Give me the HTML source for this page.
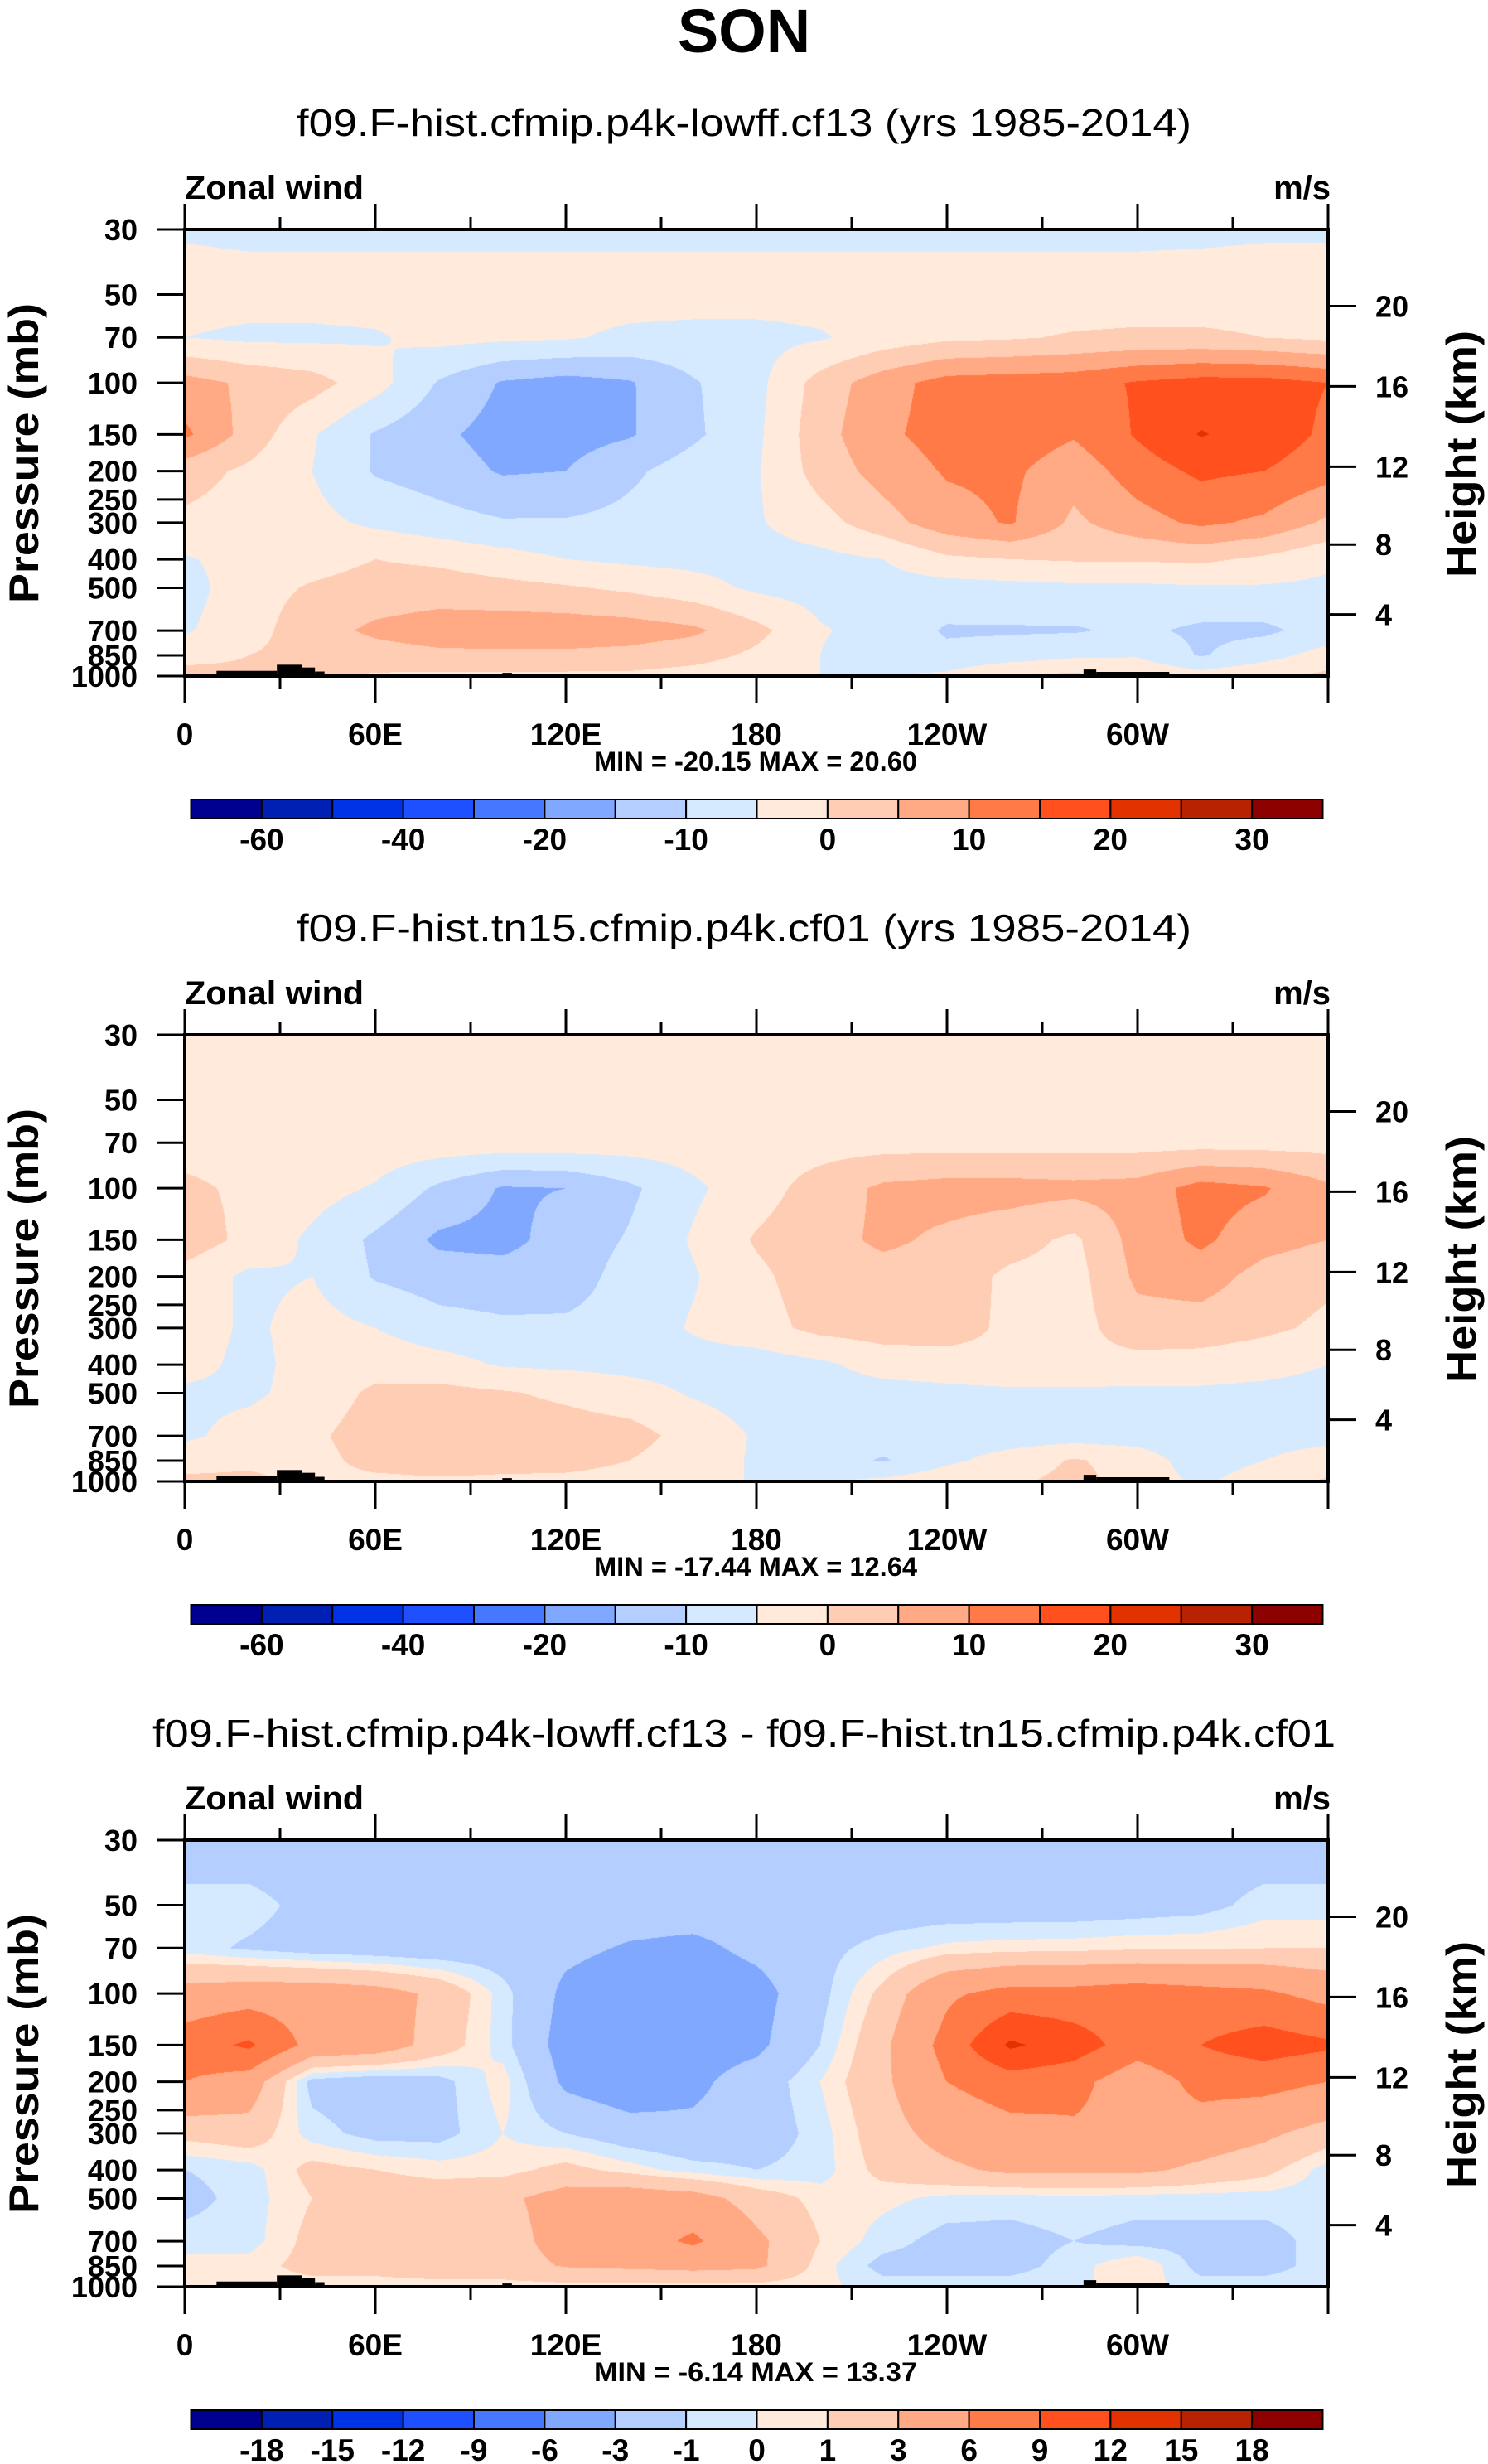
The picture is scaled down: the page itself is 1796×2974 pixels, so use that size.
<!DOCTYPE html>
<html><head><meta charset="utf-8">
<style>
html,body{margin:0;padding:0;background:#fff;}
#wrap{position:relative;width:1796px;height:2974px;overflow:hidden;}
canvas{position:absolute;}
svg{position:absolute;left:0;top:0;}
text{font-family:"Liberation Sans",Arial,sans-serif;fill:#000;}
</style></head>
<body>
<div id="wrap">
<canvas id="c0" width="1380" height="539" style="left:223px;top:277px"></canvas>
<canvas id="c1" width="1380" height="539" style="left:223px;top:1249px"></canvas>
<canvas id="c2" width="1380" height="539" style="left:223px;top:2221px"></canvas>
<svg id="svg" width="1796" height="2974" xmlns="http://www.w3.org/2000/svg">
<text x="898" y="63" text-anchor="middle" font-size="74" font-weight="bold">SON</text>
</svg>
</div>
<script>
const lons=[0,20,40,60,80,100,120,140,160,180,200,220,240,260,280,300,320,340,360];
const levels=[30,50,70,100,150,200,300,400,500,700,850,1000];
const u1=[
[-5.5,-6,-6,-6,-6,-6,-6,-6,-6,-6,-6,-6,-6,-6,-6,-6,-5.8,-5.5,-5.5],
[-3,-3,-3,-3,-3,-3,-3,-3,-3,-3,-3,-3,-3,-3,-3,-3,-3,-3,-3],
[-5,-6,-6,-5.5,-3.5,-4,-4.5,-6,-6.5,-6.5,-5.5,-3,-1,-0.5,0.5,1,1,0,-1],
[7,4,2,-3,-10.5,-15.5,-17,-15.5,-10.5,-6.5,2,8,12,12.5,13,15.5,17,17,15],
[11,3,-4.5,-10.5,-14,-17,-17,-15.5,-11,-6,3,9,12,13,10.5,15.5,20.3,18,14],
[2,-1,-5,-10.5,-12.5,-15.5,-15,-11,-7.5,-5.5,2,7,10.5,11,7,12.5,16,15,12],
[-1,-2,-3.5,-6,-8,-9.5,-9.5,-8.5,-7,-5.5,-2,3,8,10.5,4,8,11,9,4],
[-5.5,-3,-2,0,-1,-3,-5,-6,-6.5,-7,-6.5,-5,-1,0,0.5,0.5,1,-1,-4],
[-7,-2,0.5,2,2.5,1.5,0.5,-1,-3,-6,-7,-7,-7,-6.5,-6,-6,-5.5,-5.5,-6],
[-5.5,-2,3,6,7.5,8,8,7.5,6,1.5,-4.5,-7,-10.5,-10.5,-10.5,-9,-11,-11,-8],
[-2,0,1.5,3,4,4,4,3.5,2,-1,-5,-9,-9,-8,-6,-5.5,-10.5,-7,-3],
[2,1,0.5,-0.5,-1,-1,-1,-1,-2,-3,-5,-5,-4,0.5,1,-1,-3,-1,1]];
const u2=[
[-2,-2,-2,-2,-2,-2,-2,-2,-2,-2,-2,-2,-2,-2,-2,-2,-2,-2,-2],
[-2,-2,-2,-2,-2,-2,-2,-2,-2,-2,-2,-2,-2,-2,-2,-2,-2,-2,-2],
[-2,-2,-2,-2,-2,-2,-2,-2.5,-2.5,-2,-2,-2,-2,-2,-2,-2,-2,-2,-2],
[1,-1,-3,-5.5,-11,-15.5,-15,-11,-6,-2,2,6,7,7,6.5,7,12,10.5,6],
[3,-1.5,-6,-11,-16,-16.5,-13,-9.5,-4.5,0.5,3,6,4,2,-1,7,11,7,5],
[-2,-6,-5,-10.5,-12.5,-13,-12.5,-8,-5.5,-1,2.5,3,2.5,-1,-2,6,7.5,3,1],
[-2,-6,-3,-5,-8,-9,-9,-8,-4.5,-2,1.5,2.5,2,-1,-2,3,2.5,1,-1],
[-3,-6.5,-3,-2,-3,-5.5,-6,-6.5,-7,-7.5,-6,-3,-2,-1,-1,-2,-2,-3,-5],
[-6,-6,-3,1,1.5,0.5,-1,-3,-5.5,-7,-7,-7,-6.5,-6,-6,-6,-6,-6.5,-7],
[-6,-3,-1,2.5,3,3,2.5,2,-2,-5.5,-7,-7.5,-7.5,-7.5,-7.5,-7.5,-9,-7.5,-7],
[-2,-1,-1.5,1.5,2,2,1.5,0,-3,-5.5,-7.5,-10.5,-6,-3,0.5,-2,-8,-5,-2],
[1,1,-1,-1,-0.5,-1,-1,-1.5,-3,-5.5,-5.5,-4,-2,-1,1.5,-2,-6,-2,0.5]];
const u3=[
[-2,-2,-2,-2,-2,-2,-2,-2,-2,-2,-2,-2,-2,-2,-2,-2,-2,-2,-2],
[-0.5,-0.5,-1.5,-2,-2,-2,-2,-2,-2,-2,-2,-2,-2,-2,-2,-1.8,-1.5,-0.5,-0.5],
[-0.5,-1.2,-1.7,-2,-2.2,-2,-2.5,-3.2,-3.5,-2.5,-1.5,-0.5,0.3,0.5,0.6,0.8,0.8,1,1],
[4,4.5,4.5,4,2.5,-0.5,-3.5,-4.5,-4.5,-3.8,-1.5,1.5,5.5,7,7,7.5,7,6.5,5],
[7.5,9.5,5,4.5,2,-0.5,-4,-4,-4,-3.5,-1,2.5,7,12.5,10.5,7.5,9,10.5,9.5],
[6,4.5,-1.5,-2,-1.5,0.5,-3.5,-4.5,-3.5,-2,0,2.5,6,7.5,7,4,7,7,6],
[1.5,2,-0.5,-1.5,-1.5,0,-1,-2,-2.5,-2,-0.5,2,4,5,5.5,5,4.5,3.5,2],
[-1,-0.5,1.5,1,0.5,0.5,1.5,0.5,-0.5,-1,-0.5,1.5,2.5,3.5,3.5,3.5,2.5,1.5,-0.5],
[-1.5,-0.5,1,2,2,2.5,4,4.5,4,2,0.5,0.3,-0.3,-0.5,-0.3,-0.5,-0.5,-0.5,-0.5],
[-0.5,-0.5,1.5,2,2,2,4,4.5,6.5,3.5,1,-0.5,-1.5,-1.5,-1,-1.5,-1.5,-1.5,-0.5],
[0.5,0.5,1.5,1.5,2,2,3.2,3.5,3.8,3.5,0.5,-1.5,-1.5,-1.5,-0.5,1,-1.5,-1.5,-0.5],
[0.5,0.5,0.5,0.5,0.5,0.5,0.5,0.5,0.5,0.5,0.3,-0.5,-0.5,-0.5,-0.2,0.5,-0.5,-0.5,-0.5]];
const edgesAbs=[-60,-50,-40,-30,-20,-15,-10,-5,0,5,10,15,20,25,30];
const edgesDiff=[-18,-15,-12,-9,-6,-3,-1,0,1,3,6,9,12,15,18];
const colors=["#000090","#0020b4","#0032e6","#1e50ff","#4678ff","#80a8ff","#b4ceff","#d6eaff","#ffeadb","#ffcdb4","#ffaa84","#ff7a46","#ff501e","#e13200","#b92200","#8c0000"];
const cbLabelsAbs=["","-60","","-40","","-20","","-10","","0","","10","","20","","30",""];
const cbLabelsDiff=["","-18","-15","-12","-9","-6","-3","-1","0","1","3","6","9","12","15","18",""];
const presTicks=[30,50,70,100,150,200,250,300,400,500,700,850,1000];
const heightTicks=[4,8,12,16,20];
const lonTicks=[0,30,60,90,120,150,180,210,240,270,300,330,360];
const lonLabels={0:"0",60:"60E",120:"120E",180:"180",240:"120W",300:"60W"};
const topo=[[10,29,960],[29,37,915],[37,41,935],[41,44,965],[100,103,975],[283,287,950],[287,310,968]];
const titles=["f09.F-hist.cfmip.p4k-lowff.cf13 (yrs 1985-2014)","f09.F-hist.tn15.cfmip.p4k.cf01 (yrs 1985-2014)","f09.F-hist.cfmip.p4k-lowff.cf13 - f09.F-hist.tn15.cfmip.p4k.cf01"];
const minmax=["MIN = -20.15  MAX =  20.60","MIN = -17.44  MAX =  12.64","MIN =  -6.14  MAX = 13.37"];

const X0=223,W=1380,H=539,TOPS=[277,1249,2221];
const LN=Math.log(1000/30);
const NS="http://www.w3.org/2000/svg";
const svg=document.getElementById('svg');
function xOf(lon){return X0+lon/360*W;}
function yOf(p,top){return top+Math.log(p/30)/LN*H;}
function stdP(zkm){const z=zkm*1000;if(z<11000)return 1013.25*Math.pow(1-2.25577e-5*z,5.25588);return 226.32*Math.exp(-(z-11000)/6341.6);}
function hex(c){return [parseInt(c.substr(1,2),16),parseInt(c.substr(3,2),16),parseInt(c.substr(5,2),16)];}
const rgb=colors.map(hex);
function mk(tag,attrs,parent){const e=document.createElementNS(NS,tag);for(const k in attrs)e.setAttribute(k,attrs[k]);(parent||svg).appendChild(e);return e;}
function txt(x,y,s,size,bold,anchor,extra){const e=mk('text',Object.assign({x:x,y:y,'font-size':size,'font-weight':bold?'bold':'normal','text-anchor':anchor||'start'},extra||{}));e.textContent=s;return e;}

function drawField(id,data,edges){
  const cv=document.getElementById(id),ctx=cv.getContext('2d');
  const img=ctx.createImageData(W,H);
  const lnl=levels.map(p=>Math.log(p));
  for(let py=0;py<H;py++){
    const lp=Math.log(30)+py/(H-1)*LN;
    let j=0;while(j<levels.length-2&&lp>lnl[j+1])j++;
    const fy=Math.min(1,Math.max(0,(lp-lnl[j])/(lnl[j+1]-lnl[j])));
    for(let px=0;px<W;px++){
      const lon=px/(W-1)*360;
      let i=0;while(i<lons.length-2&&lon>lons[i+1])i++;
      const fx=(lon-lons[i])/(lons[i+1]-lons[i]);
      const v=(data[j][i]*(1-fx)+data[j][i+1]*fx)*(1-fy)+(data[j+1][i]*(1-fx)+data[j+1][i+1]*fx)*fy;
      let b=0;while(b<edges.length&&v>=edges[b])b++;
      const c=rgb[b],k=(py*W+px)*4;
      img.data[k]=c[0];img.data[k+1]=c[1];img.data[k+2]=c[2];img.data[k+3]=255;
    }
  }
  ctx.putImageData(img,0,0);
}
drawField('c0',u1,edgesAbs);
drawField('c1',u2,edgesAbs);
drawField('c2',u3,edgesDiff);

TOPS.forEach((top,pi)=>{
  const off=top-277;
  const g=mk('g',{});
  
  
  topo.forEach(t=>{
    const r=mk('rect',{x:xOf(t[0]),y:yOf(t[2],top),width:xOf(t[1])-xOf(t[0]),height:top+H-yOf(t[2],top),fill:'#000'},g);
    
    
  });
  const fr=mk('rect',{x:X0,y:top,width:W,height:H,fill:'none',stroke:'#000','stroke-width':4},g);
  
  
  const t=txt(898,top-113,titles[pi],46,false,'middle',{textLength:pi==2?1428:1080,lengthAdjust:'spacingAndGlyphs'});
  
  
  const zw=txt(X0,top-37,"Zonal wind",40,true,'start',{textLength:216,lengthAdjust:'spacingAndGlyphs'});
  
  
  const un=txt(1606,top-37,"m/s",40,true,'end');
  
  
  lonTicks.forEach(l=>{
    const major=(l%60===0),x=xOf(l);
    const a=mk('line',{x1:x,y1:top,x2:x,y2:top-(major?31:15),stroke:'#000','stroke-width':3},g);
    
    
    const b=mk('line',{x1:x,y1:top+H,x2:x,y2:top+H+(major?33:16),stroke:'#000','stroke-width':3},g);
    
    
    if(lonLabels[l]!==undefined){
      const s=txt(x,top+622,lonLabels[l],37,true,'middle');
      
      
    }
  });
  presTicks.forEach(p=>{
    const y=yOf(p,top);
    const a=mk('line',{x1:X0,y1:y,x2:X0-33,y2:y,stroke:'#000','stroke-width':3},g);
    
    
    const s=txt(166,y+13,String(p),36,true,'end');
    
    
  });
  heightTicks.forEach(z=>{
    const y=yOf(stdP(z),top);
    const a=mk('line',{x1:X0+W,y1:y,x2:X0+W+34,y2:y,stroke:'#000','stroke-width':3},g);
    
    
    const s=txt(1660,y+13,String(z),36,true,'start');
    
    
  });
  const yl=txt(0,0,"Pressure (mb)",50,true,'middle',{transform:'translate(46,'+(top+270)+') rotate(-90)',textLength:362,lengthAdjust:'spacingAndGlyphs'});
  
  
  const hl=txt(0,0,"Height (km)",50,true,'middle',{transform:'translate(1781,'+(top+271)+') rotate(-90)',textLength:298,lengthAdjust:'spacingAndGlyphs'});
  
  
  const mm=txt(912,top+653,minmax[pi],32,true,'middle',{textLength:390,lengthAdjust:'spacingAndGlyphs','xml:space':'preserve'});
  
  
  const cbx=230.5,cbw=1366/16,cby=965+off,cbh=23;
  const labs=pi==2?cbLabelsDiff:cbLabelsAbs;
  colors.forEach((c,k)=>{
    const r=mk('rect',{x:cbx+k*cbw,y:cby,width:cbw,height:cbh,fill:c,stroke:'#000','stroke-width':2},g);
    
    
  });
  labs.forEach((s,k)=>{
    if(!s)return;
    const l=txt(cbx+k*cbw,1026+off,s,37,true,'middle');
    
    
  });
});
</script>
</body></html>
